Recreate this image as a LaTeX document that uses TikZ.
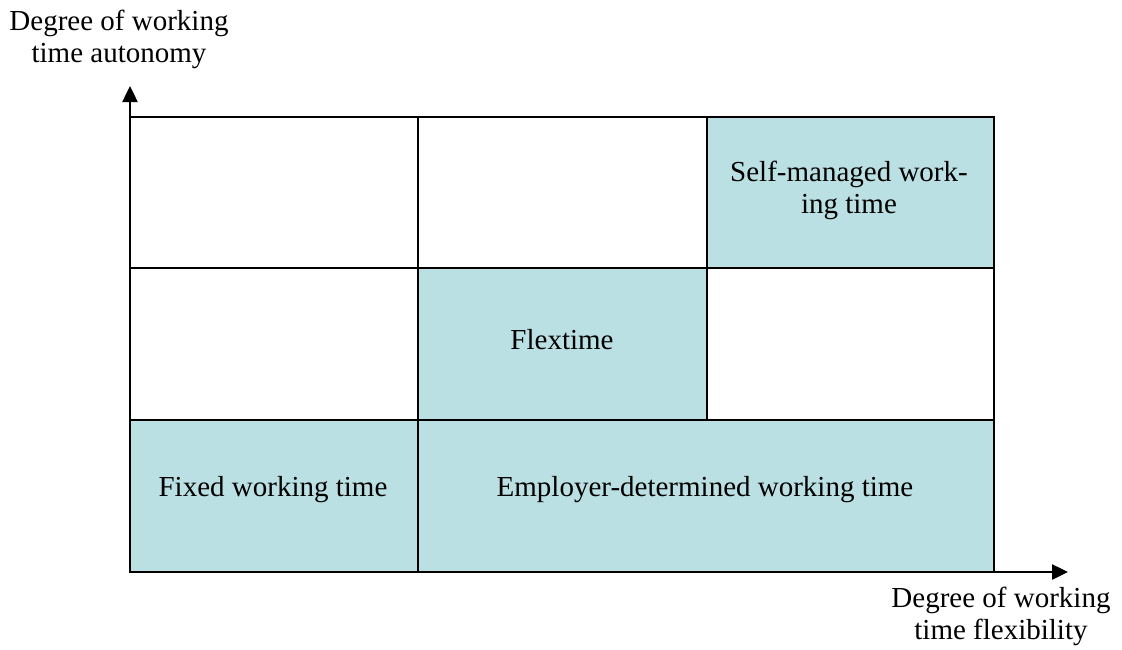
\documentclass[tikz,border=0pt]{standalone}
\usepackage{fontspec}
\setmainfont{Liberation Serif}
\usetikzlibrary{arrows.meta}
\definecolor{cellblue}{HTML}{BBE0E3}
\begin{document}
\begin{tikzpicture}[x=1pt,y=-1pt,
  cell/.style={draw=black,line width=2.5pt},
  filled/.style={cell,fill=cellblue},
  lbl/.style={font=\fontsize{29}{32}\selectfont,align=center,inner sep=0pt},
  axis/.style={line width=2.5pt,-{Triangle[length=16pt,width=15pt]}}]
\useasboundingbox (0,0) rectangle (1122,649);
% row 1
\draw[cell] (130,117) rectangle (418,268);
\draw[cell] (418,117) rectangle (707,268);
\draw[filled] (707,117) rectangle (994,268);
% row 2
\draw[cell] (130,268) rectangle (418,420);
\draw[filled] (418,268) rectangle (707,420);
\draw[cell] (707,268) rectangle (994,420);
% row 3
\draw[filled] (130,420) rectangle (418,572);
\draw[filled] (418,420) rectangle (994,572);
\node[lbl] (smw) at (849,190) {Self-managed work-\\ing time};
\node[lbl] (flex) at (562,340) {Flextime};
\node[lbl] (fix) at (273,490) {Fixed working time};
\node[lbl] (emp) at (705,490) {Employer-determined working time};
% axes
\coordinate (o) at (130,572);
\coordinate (ytip) at (130,86);
\coordinate (xtip) at (1068,572);
\draw[axis] (o) -- (ytip);
\draw[axis] (o) -- (xtip);
\node[lbl] (ylab) at (119,39) {Degree of working\\time autonomy};
\node[lbl] (xlab) at (1001,616) {Degree of working\\time flexibility};
\end{tikzpicture}
\end{document}
